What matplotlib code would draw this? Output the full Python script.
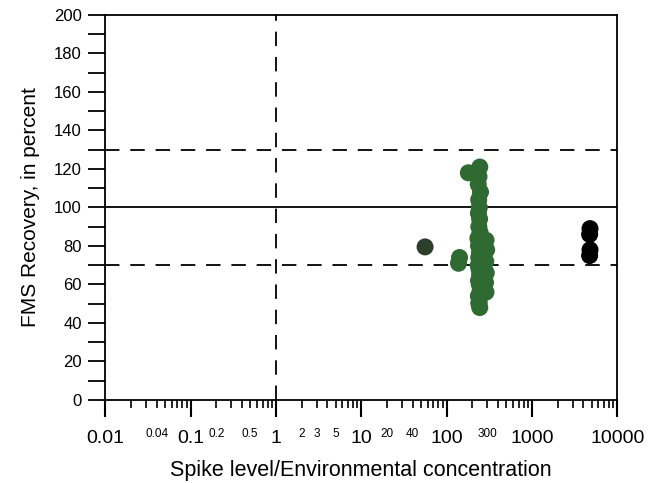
import matplotlib
matplotlib.use("Agg")
import matplotlib.pyplot as plt
from matplotlib.ticker import FixedLocator, FixedFormatter

plt.rcParams['font.family'] = ['Liberation Sans', 'DejaVu Sans']

# Main cluster of spiked samples (green)
green_x = [245, 240, 235, 250, 238, 242, 236, 244, 239, 247, 233, 241, 237, 246, 243,
           238, 249, 235, 240, 244, 237, 242, 248, 236, 241, 245, 239, 180,
           290, 295, 288, 292, 286, 290, 138, 142]
green_y = [121, 116, 112, 108, 104, 100, 97, 94, 90, 87, 84, 82, 80, 78, 76,
           74, 72, 70, 68, 65, 62, 60, 57, 54, 51, 48, 50, 118,
           83, 78, 72, 66, 61, 56, 71, 74]

# Single darker sample
dark_x = [56]
dark_y = [79.5]

# High spike ratio samples (black)
black_x = [4800, 4750, 4800, 4750]
black_y = [89, 86, 78, 75]

major_ticks = [0.01, 0.1, 1, 10, 100, 1000, 10000]
major_labels = ['0.01', '0.1', '1', '10', '100', '1000', '10000']
minor_label_vals = {0.04: '0.04', 0.2: '0.2', 0.5: '0.5', 2: '2', 3: '3', 5: '5',
                    20: '20', 40: '40', 300: '300'}

fig = plt.figure(figsize=(6.58, 4.83), dpi=100)
ax = fig.add_axes([0.16, 0.172, 0.778, 0.797])

ax.axhline(100, color='black', lw=1.3, zorder=1)
ax.axhline(130, color='black', lw=1.3, ls=(0, (8, 6)), zorder=1)
ax.axhline(70, color='black', lw=1.3, ls=(0, (8, 6)), zorder=1)
ax.axvline(1, color='black', lw=1.3, ls=(0, (8, 6)), zorder=1)

ax.scatter(green_x, green_y, s=150, color='#2f6a33', edgecolors='none', zorder=3)
ax.scatter(dark_x, dark_y, s=150, color='#2b3f2c', edgecolors='none', zorder=3)
ax.scatter(black_x, black_y, s=150, color='black', edgecolors='none', zorder=3)

ax.set_xscale('log')
ax.set_xlim(0.01, 10000)
ax.set_ylim(0, 200)

ax.xaxis.set_major_locator(FixedLocator(major_ticks))
ax.xaxis.set_major_formatter(FixedFormatter(major_labels))
minor_locs = []
minor_labs = []
for dec in [0.01, 0.1, 1, 10, 100, 1000]:
    for m in range(2, 10):
        v = round(dec * m, 6)
        minor_locs.append(v)
        minor_labs.append(minor_label_vals.get(v, ''))
ax.xaxis.set_minor_locator(FixedLocator(minor_locs))
ax.xaxis.set_minor_formatter(FixedFormatter(minor_labs))

ax.set_yticks(range(0, 201, 20))
ax.set_yticks(range(10, 200, 20), minor=True)

ax.tick_params(axis='x', which='major', length=12, width=1.5, labelsize=14, pad=10)
ax.tick_params(axis='x', which='minor', length=6, width=1.2, labelsize=8.5, pad=14)
ax.tick_params(axis='y', which='both', length=12, width=1.3, labelsize=12, pad=5)

for s in ax.spines.values():
    s.set_linewidth(1.3)

ax.set_xlabel('Spike level/Environmental concentration', fontsize=15.5, labelpad=9)
ax.set_ylabel('FMS Recovery, in percent', fontsize=15, labelpad=10)

fig.savefig('out.png', dpi=100)
